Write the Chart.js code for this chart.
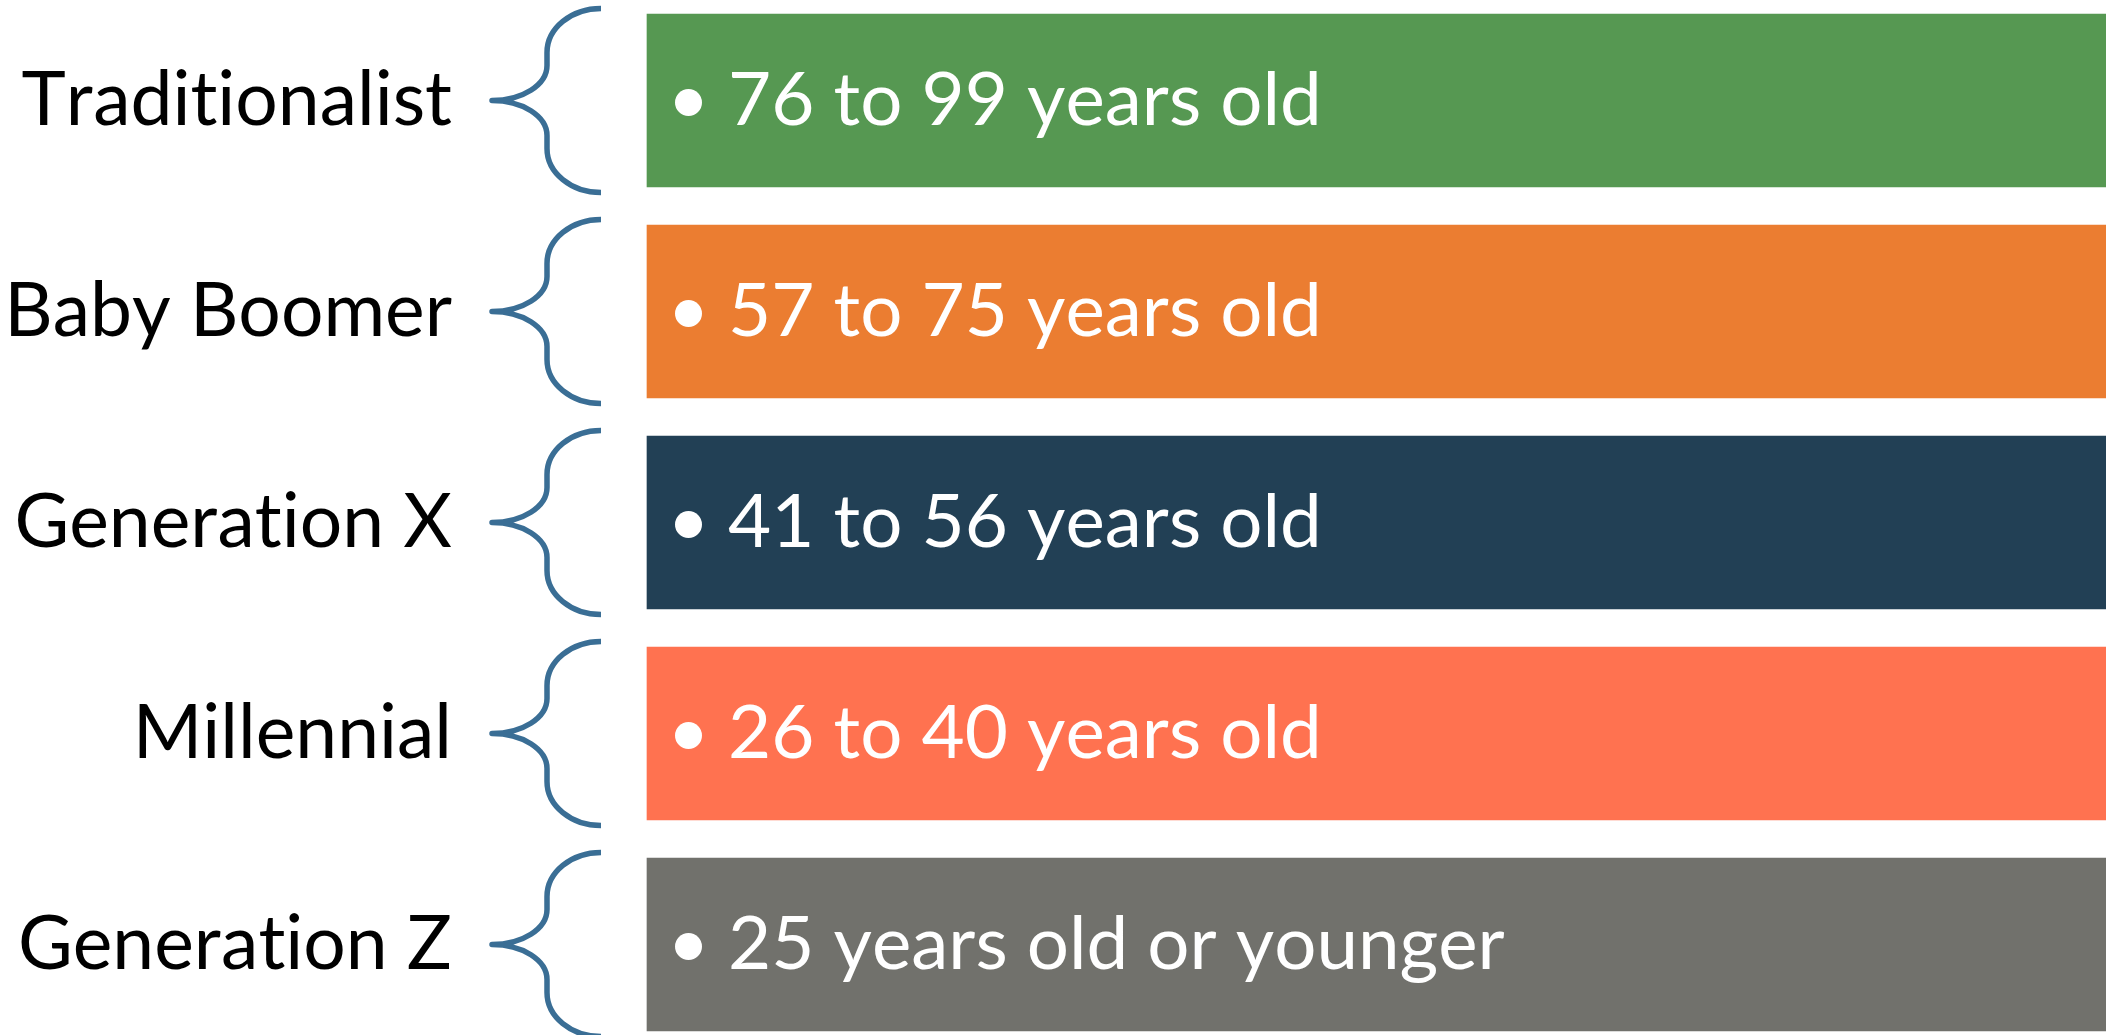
<!DOCTYPE html>
<html>
<head>
<meta charset="utf-8">
<script src="https://cdn.jsdelivr.net/npm/chart.js@4.4.1/dist/chart.umd.min.js"></script>
<style>
html,body{margin:0;padding:0;background:#ffffff;}
#wrap{width:2106px;height:1035px;}
</style>
</head>
<body>
<div id="wrap"><canvas id="c" width="2106" height="1035"></canvas></div>
<script>
const categories = ['Traditionalist', 'Baby Boomer', 'Generation X', 'Millennial', 'Generation Z'];
const ageRanges = ['76 to 99 years old', '57 to 75 years old', '41 to 56 years old', '26 to 40 years old', '25 years old or younger'];
const barValues = [1, 1, 1, 1, 1];
const barColors = ['#569852', '#EB7D31', '#224055', '#FF7250', '#71716C'];
const braceColor = '#3A6E95';

const noLigaturePlugin = {
  id: 'noLigatures',
  beforeDraw(chart) {
    const ctx = chart.ctx;
    if ('textRendering' in ctx) ctx.textRendering = 'optimizeSpeed';
    if ('fontKerning' in ctx) ctx.fontKerning = 'none';
    if ('letterSpacing' in ctx) ctx.letterSpacing = '0px';
  }
};

const bracePlugin = {
  id: 'braces',
  afterDatasetsDraw(chart) {
    const ctx = chart.ctx;
    const meta = chart.getDatasetMeta(0);
    const base = chart.chartArea.left;
    ctx.save();
    meta.data.forEach((bar, i) => {
      const cy = bar.y;
      const h = bar.height;
      const half = h / 2 + 5.5;
      const xr = base - 46, xm = base - 100, xt = base - 155;
      const k = 0.5523;
      const a1 = half - 44;
      const a2 = 35;
      ctx.beginPath();
      ctx.moveTo(xr, cy - half);
      ctx.bezierCurveTo(xr - k * (xr - xm), cy - half, xm, cy - a1 - k * (half - a1), xm, cy - a1);
      ctx.lineTo(xm, cy - a2);
      ctx.bezierCurveTo(xm, cy - a2 + k * a2, xt + k * (xm - xt), cy, xt, cy);
      ctx.bezierCurveTo(xt + k * (xm - xt), cy, xm, cy + a2 - k * a2, xm, cy + a2);
      ctx.lineTo(xm, cy + a1);
      ctx.bezierCurveTo(xm, cy + a1 + k * (half - a1), xr - k * (xr - xm), cy + half, xr, cy + half);
      ctx.strokeStyle = braceColor;
      ctx.lineWidth = 5.5;
      ctx.lineCap = 'butt';
      ctx.lineJoin = 'round';
      ctx.stroke();

      const left = bar.base;
      ctx.fillStyle = '#ffffff';
      ctx.beginPath();
      ctx.arc(left + 41.5, cy + 2, 13.5, 0, Math.PI * 2);
      ctx.fill();
      ctx.font = '74.5px Lato';
      ctx.textAlign = 'left';
      ctx.textBaseline = 'alphabetic';
      ctx.fillText(ageRanges[i], left + 81, cy + 24.5);
    });
    ctx.restore();
  }
};

new Chart(document.getElementById('c'), {
  type: 'bar',
  data: {
    labels: categories,
    datasets: [{
      data: barValues,
      backgroundColor: barColors,
      borderWidth: 0,
      barThickness: 173,
      clip: false
    }]
  },
  options: {
    indexAxis: 'y',
    responsive: false,
    animation: false,
    events: [],
    layout: { padding: { top: 100.5, bottom: 90.5, left: 0, right: 0 } },
    plugins: { legend: { display: false }, tooltip: { enabled: false } },
    scales: {
      x: { display: false, min: 0, max: 1 },
      y: {
        offset: false,
        grid: { display: false, drawTicks: false },
        border: { display: false },
        ticks: {
          padding: 195,
          color: '#000000',
          font: { family: 'Lato', size: 75 }
        },
        afterFit(scale) {
          scale.width = 647;
          scale.paddingTop = 0;
          scale.paddingBottom = 0;
        }
      }
    }
  },
  plugins: [noLigaturePlugin, bracePlugin]
});
</script>
</body>
</html>
